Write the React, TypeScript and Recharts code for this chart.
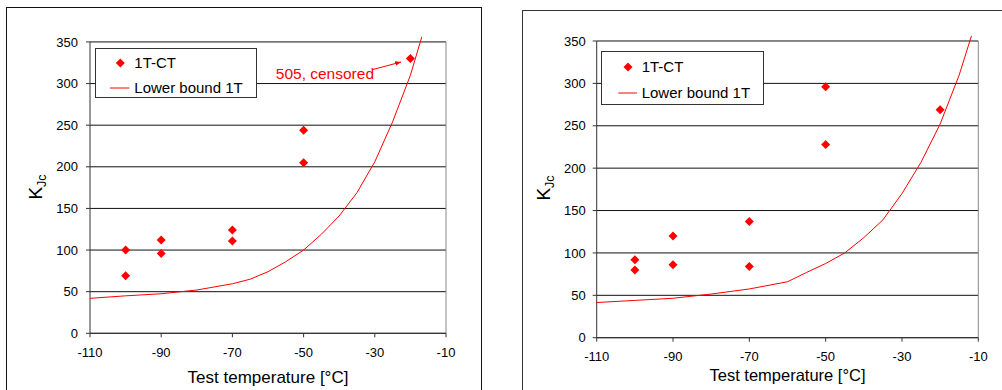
import React from 'react';
import { ComposedChart, Scatter, Line, XAxis, YAxis, CartesianGrid, Legend, ReferenceLine } from 'recharts';

const FONT = '"Liberation Sans", Arial, Helvetica, sans-serif';
const RED = '#ff0000';

const X_TICKS = [-110, -90, -70, -50, -30, -10];
const Y_TICKS = [0, 50, 100, 150, 200, 250, 300, 350];
const Y_TOP = 357; // curve runs a little past the 350 line

const SERIES_CT = '1T-CT';
const SERIES_BOUND = 'Lower bound 1T';
const X_TITLE = 'Test temperature [°C]';

// 1T-CT test results
const CT_TEMP = [-100, -100, -90, -90, -70, -70, -50, -50, -20];
const LEFT_CT_KJC = [100, 69, 112, 96, 124, 111, 244, 205, 330];
const RIGHT_CT_KJC = [92, 80, 120, 86, 137, 84, 296, 228, 269];

// lower bound curves
const LEFT_BOUND_TEMP = [-110, -100, -90, -80, -70, -65, -60, -55, -50, -45, -40, -35, -30, -25, -20, -16.8];
const LEFT_BOUND_KJC = [42, 45, 47.5, 52, 59.5, 65, 74, 86, 100, 119, 141, 169, 206, 254, 310, 356];
const RIGHT_BOUND_TEMP = [-110, -100, -90, -80, -70, -60, -55, -50, -45, -40, -35, -30, -25, -20, -15, -11.8];
const RIGHT_BOUND_KJC = [41.5, 44, 46.5, 51.5, 57.5, 66, 77, 87.5, 100, 118, 139, 170, 207, 252, 310, 356];

// censored point note (left panel)
const CENSORED_LABEL = '505, censored';
const ARROW_FROM = { x: -30.5, y: 316.9 };
const ARROW_TO = { x: -22.6, y: 325.9 };

const zip = (t: number[], k: number[]) => t.map((v, i) => ({ t: v, k: k[i] }));

const Diamond = (props: any) => {
  const { cx, cy } = props;
  const r = 4.5;
  return <polygon points={`${cx},${cy - r} ${cx + r},${cy} ${cx},${cy + r} ${cx - r},${cy}`} fill={RED} />;
};

const ArrowNote = (props: any) => {
  const { x1, y1, x2, y2 } = props;
  return (
    <g>
      <defs>
        <marker id="note-arrow" viewBox="0 0 10 10" refX="10" refY="5" markerWidth="6" markerHeight="6" orient="auto" markerUnits="userSpaceOnUse">
          <path d="M0,1 L10,5 L0,9 z" fill={RED} />
        </marker>
      </defs>
      <line x1={x1} y1={y1} x2={x2} y2={y2} stroke={RED} strokeWidth={1} markerEnd="url(#note-arrow)" />
      <text x={x1 + 1} y={y1 + 10} textAnchor="end" fontSize={15.5} fill={RED} fontFamily={FONT}>
        {CENSORED_LABEL}
      </text>
    </g>
  );
};

interface LegendBox {
  x: number; y: number; w: number; h: number;
  rows: number[]; symX: number; lineX1: number; lineX2: number; textX: number;
}

const makeLegend = (box: LegendBox) => (props: any) => {
  const items = [...(props.payload ?? [])].sort(
    (a: any, b: any) => (a.type === 'line' ? 1 : 0) - (b.type === 'line' ? 1 : 0)
  );
  return (
    <div
      style={{
        position: 'relative', width: box.w, height: box.h, boxSizing: 'border-box',
        border: '1px solid #333', background: '#fff', fontFamily: FONT, fontSize: 15, color: '#000',
      }}
    >
      {items.map((it: any, i: number) => (
        <div key={i} style={{ position: 'absolute', left: 0, top: box.rows[i] - 10, height: 20, width: box.w - 2 }}>
          <svg width={box.textX} height={20} style={{ position: 'absolute', left: 0, top: 0 }}>
            {it.type === 'line' ? (
              <line x1={box.lineX1} x2={box.lineX2} y1={10} y2={10} stroke={RED} strokeWidth={1} />
            ) : (
              <Diamond cx={box.symX} cy={10} />
            )}
          </svg>
          <span style={{ position: 'absolute', left: box.textX, top: 0, lineHeight: '20px', whiteSpace: 'nowrap' }}>
            {it.value}
          </span>
        </div>
      ))}
    </div>
  );
};

interface PanelProps {
  left: number; width: number; height: number;
  top: number; right: number; yAxisWidth: number; xAxisHeight: number;
  ct: { t: number; k: number }[]; bound: { t: number; k: number }[];
  legend: LegendBox;
  yLabelX: number; yLabelY: number;
  xLabelX: number; xLabelY: number; xLabelSize: number;
  tickMarginY: number;
  annotate?: boolean;
}

const Panel: React.FC<PanelProps> = (p) => (
  <div style={{ position: 'absolute', left: p.left, top: 0 }}>
    <ComposedChart
      width={p.width}
      height={p.height}
      margin={{ top: p.top, right: p.right, bottom: 0, left: 0 }}
      style={{ fontFamily: FONT }}
    >
      <CartesianGrid horizontal vertical={false} horizontalValues={Y_TICKS} stroke="#111" strokeWidth={1} />
      <XAxis
        type="number"
        dataKey="t"
        domain={[-110, -10]}
        ticks={X_TICKS}
        height={p.xAxisHeight}
        tickSize={4}
        tickMargin={10}
        axisLine={{ stroke: '#333' }}
        tickLine={{ stroke: '#333' }}
        tick={{ fill: '#000', fontSize: 13 }}
        label={{
          content: () => (
            <text x={p.xLabelX} y={p.xLabelY} textAnchor="middle" fontSize={p.xLabelSize} fill="#000" fontFamily={FONT}>
              {X_TITLE}
            </text>
          ),
        }}
      />
      <YAxis
        type="number"
        dataKey="k"
        domain={[0, Y_TOP]}
        ticks={Y_TICKS}
        width={p.yAxisWidth}
        tickSize={4}
        tickMargin={p.tickMarginY}
        axisLine={false}
        tickLine={{ stroke: '#333' }}
        tick={{ fill: '#000', fontSize: 13 }}
        label={{
          content: () => (
            <text
              x={p.yLabelX}
              y={p.yLabelY}
              textAnchor="middle"
              fontSize={19}
              fill="#000"
              fontFamily={FONT}
              transform={`rotate(-90 ${p.yLabelX} ${p.yLabelY})`}
            >
              K<tspan fontSize={12.5} dy={4}>Jc</tspan>
            </text>
          ),
        }}
      />
      <ReferenceLine segment={[{ x: -110, y: 0 }, { x: -110, y: 350 }]} stroke="#333" strokeWidth={1} />
      <ReferenceLine segment={[{ x: -10, y: 0 }, { x: -10, y: 350 }]} stroke="#888" strokeWidth={1} />
      <Line
        name={SERIES_BOUND}
        data={p.bound}
        dataKey="k"
        type="linear"
        stroke={RED}
        strokeWidth={1}
        dot={false}
        legendType="line"
        isAnimationActive={false}
      />
      <Scatter
        name={SERIES_CT}
        data={p.ct}
        dataKey="k"
        fill={RED}
        shape={Diamond}
        legendType="diamond"
        isAnimationActive={false}
      />
      {p.annotate && <ReferenceLine segment={[ARROW_FROM, ARROW_TO]} shape={ArrowNote} />}
      <Legend
        verticalAlign="middle"
        align="center"
        layout="horizontal"
        content={makeLegend(p.legend)}
        wrapperStyle={{ left: p.legend.x, top: p.legend.y, width: p.legend.w, height: p.legend.h }}
      />
    </ComposedChart>
  </div>
);

export default function App() {
  return (
    <div style={{ position: 'absolute', left: 0, top: 0, width: 1002, height: 390, overflow: 'hidden', background: '#fff' }}>
      <div style={{ position: 'absolute', left: 6, top: 7, width: 476, height: 420, border: '1px solid #111', boxSizing: 'border-box' }} />
      <div style={{ position: 'absolute', left: 522, top: 10, width: 600, height: 420, border: '1px solid #333', boxSizing: 'border-box' }} />
      <Panel
        left={0}
        width={480}
        height={390}
        top={36.1}
        right={34}
        yAxisWidth={90}
        xAxisHeight={56.7}
        ct={zip(CT_TEMP, LEFT_CT_KJC)}
        bound={zip(LEFT_BOUND_TEMP, LEFT_BOUND_KJC)}
        legend={{ x: 95, y: 48, w: 162, h: 50, rows: [13.7, 38.7], symX: 24.3, lineX1: 14, lineX2: 33.3, textX: 38.3 }}
        yLabelX={42}
        yLabelY={187}
        xLabelX={268}
        xLabelY={383}
        xLabelSize={17}
        tickMarginY={8}
        annotate
      />
      <Panel
        left={500}
        width={502}
        height={390}
        top={35.06}
        right={23.7}
        yAxisWidth={96.7}
        xAxisHeight={52.3}
        ct={zip(CT_TEMP, RIGHT_CT_KJC)}
        bound={zip(RIGHT_BOUND_TEMP, RIGHT_BOUND_KJC)}
        legend={{ x: 101, y: 51, w: 163, h: 54, rows: [14.7, 41], symX: 26, lineX1: 16.3, lineX2: 35, textX: 39.7 }}
        yLabelX={49.8}
        yLabelY={188}
        xLabelX={287.5}
        xLabelY={381}
        xLabelSize={16.5}
        tickMarginY={7}
      />
    </div>
  );
}
